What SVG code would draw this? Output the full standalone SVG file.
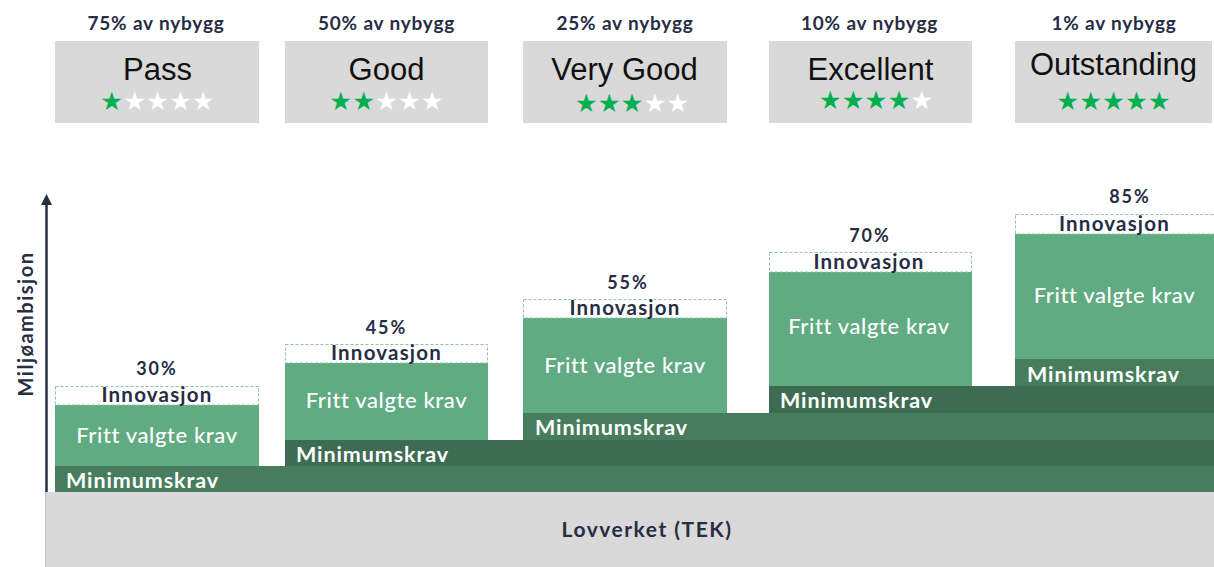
<svg xmlns="http://www.w3.org/2000/svg" width="1214" height="567" viewBox="0 0 1214 567">
  <style>
    .lbl { font-family: Lato, "Noto Sans", "DejaVu Sans", sans-serif; font-weight: 700; fill: #272d43; text-anchor: middle; }
    .share { font-size: 19px; letter-spacing: 0.8px; }
    .pct { font-size: 18px; letter-spacing: 2px; }
    .inno { font-size: 20.5px; letter-spacing: 1.2px; }
    .fritt { font-family: Lato, "Noto Sans", sans-serif; font-weight: 500; font-size: 22px; letter-spacing: 0.6px; fill: #ffffff; text-anchor: middle; }
    .min { font-family: Lato, "Noto Sans", sans-serif; font-weight: 700; font-size: 21.5px; letter-spacing: 0.9px; fill: #ffffff; }
    .title { font-family: "Liberation Sans", Arial, sans-serif; font-size: 31px; fill: #111111; text-anchor: middle; }
    .stars { font-family: "DejaVu Sans", sans-serif; font-size: 25.5px; text-anchor: middle; }
    .on { fill: #00b050; }
    .off { fill: #ffffff; }
    .card { fill: #d9d9d9; }
    .free { fill: #60ab82; }
    .bandA { fill: #477d5d; }
    .bandB { fill: #3e6c52; }
    .inbox { fill: #ffffff; stroke: #8cc4a3; stroke-width: 1; stroke-dasharray: 3 2; }
  </style>
  <defs>
    <marker id="arrowHead" viewBox="0 0 10 10" refX="0" refY="5" markerWidth="11" markerHeight="11" markerUnits="userSpaceOnUse" orient="auto">
      <path d="M0,0 L10,5 L0,10 Z" fill="#272d43"/>
    </marker>
  </defs>

  <rect width="1214" height="567" fill="#ffffff"/>

  <!-- Rating cards -->
  <g id="rating-pass">
    <text class="lbl share" x="156" y="30">75% av nybygg</text>
    <rect class="card" x="55" y="41" width="204" height="82"/>
    <text class="title" x="157.5" y="80">Pass</text>
    <text class="stars" x="157.5" y="110"><tspan class="on">★</tspan><tspan class="off">★★★★</tspan></text>
  </g>
  <g id="rating-good">
    <text class="lbl share" x="386.5" y="30">50% av nybygg</text>
    <rect class="card" x="285" y="41" width="203" height="82"/>
    <text class="title" x="386.5" y="80">Good</text>
    <text class="stars" x="386.5" y="110"><tspan class="on">★★</tspan><tspan class="off">★★★</tspan></text>
  </g>
  <g id="rating-very-good">
    <text class="lbl share" x="625" y="30">25% av nybygg</text>
    <rect class="card" x="523" y="41" width="204" height="82"/>
    <text class="title" x="624.5" y="80">Very Good</text>
    <text class="stars" x="632" y="112"><tspan class="on">★★★</tspan><tspan class="off">★★</tspan></text>
  </g>
  <g id="rating-excellent">
    <text class="lbl share" x="869.5" y="30">10% av nybygg</text>
    <rect class="card" x="769" y="41" width="203" height="82"/>
    <text class="title" x="870.5" y="80">Excellent</text>
    <text class="stars" x="876" y="109"><tspan class="on">★★★★</tspan><tspan class="off">★</tspan></text>
  </g>
  <g id="rating-outstanding">
    <text class="lbl share" x="1114" y="30">1% av nybygg</text>
    <rect class="card" x="1015" y="41" width="197" height="82"/>
    <text class="title" x="1113.5" y="75">Outstanding</text>
    <text class="stars" x="1113.5" y="110"><tspan class="on">★★★★★</tspan></text>
  </g>

  <!-- Legal baseline -->
  <g id="base-tek">
    <rect x="45" y="492" width="1169" height="75" fill="#d9d9d9"/>
    <line x1="45.5" y1="492" x2="45.5" y2="567" stroke="#c3c5cc" stroke-width="1"/>
    <text class="lbl" x="647" y="537" font-size="21" letter-spacing="1.5">Lovverket (TEK)</text>
  </g>

  <!-- Minimum-requirement bands, stacked from the bottom -->
  <g id="bands">
    <rect class="bandA" x="55" y="466" width="1159" height="26"/>
    <rect class="bandB" x="285" y="440" width="929" height="26"/>
    <rect class="bandA" x="523" y="413" width="691" height="27"/>
    <rect class="bandB" x="769" y="386" width="445" height="27"/>
    <rect class="bandA" x="1015" y="359" width="199" height="27"/>
  </g>

  <!-- Steps -->
  <g id="step-30">
    <text class="min" x="66" y="488">Minimumskrav</text>
    <rect class="free" x="55" y="405" width="204" height="61"/>
    <text class="fritt" x="157" y="443">Fritt valgte krav</text>
    <rect class="inbox" x="55.5" y="386.5" width="203" height="18.5"/>
    <text class="lbl inno" x="157" y="402">Innovasjon</text>
    <text class="lbl pct" x="157" y="375">30%</text>
  </g>
  <g id="step-45">
    <text class="min" x="296" y="462">Minimumskrav</text>
    <rect class="free" x="285" y="363" width="203" height="77"/>
    <text class="fritt" x="386.5" y="408">Fritt valgte krav</text>
    <rect class="inbox" x="285.5" y="344.5" width="202" height="18.5"/>
    <text class="lbl inno" x="386.5" y="360">Innovasjon</text>
    <text class="lbl pct" x="386.5" y="334">45%</text>
  </g>
  <g id="step-55">
    <text class="min" x="535" y="435">Minimumskrav</text>
    <rect class="free" x="523" y="318" width="204" height="95"/>
    <text class="fritt" x="625" y="373">Fritt valgte krav</text>
    <rect class="inbox" x="523.5" y="299.5" width="203" height="18.5"/>
    <text class="lbl inno" x="625" y="315">Innovasjon</text>
    <text class="lbl pct" x="628" y="289">55%</text>
  </g>
  <g id="step-70">
    <text class="min" x="780" y="408">Minimumskrav</text>
    <rect class="free" x="769" y="272" width="203" height="114"/>
    <text class="fritt" x="869" y="334">Fritt valgte krav</text>
    <rect class="inbox" x="769.5" y="252.5" width="202" height="19.5"/>
    <text class="lbl inno" x="869" y="269">Innovasjon</text>
    <text class="lbl pct" x="870" y="242">70%</text>
  </g>
  <g id="step-85">
    <text class="min" x="1027" y="382">Minimumskrav</text>
    <rect class="free" x="1015" y="234" width="199" height="125"/>
    <text class="fritt" x="1114.5" y="303">Fritt valgte krav</text>
    <rect class="inbox" x="1015.5" y="214.5" width="200" height="19.5"/>
    <text class="lbl inno" x="1114.5" y="231">Innovasjon</text>
    <text class="lbl pct" x="1130" y="203">85%</text>
  </g>

  <!-- Vertical axis -->
  <g id="connectors">
    <line x1="46.5" y1="492" x2="46.5" y2="205" stroke="#272d43" stroke-width="2.5" marker-end="url(#arrowHead)"/>
  </g>
  <g id="axis-label">
    <text class="lbl" x="0" y="0" font-size="20" letter-spacing="1.5" transform="translate(33,324) rotate(-90)">Miljøambisjon</text>
  </g>
</svg>
